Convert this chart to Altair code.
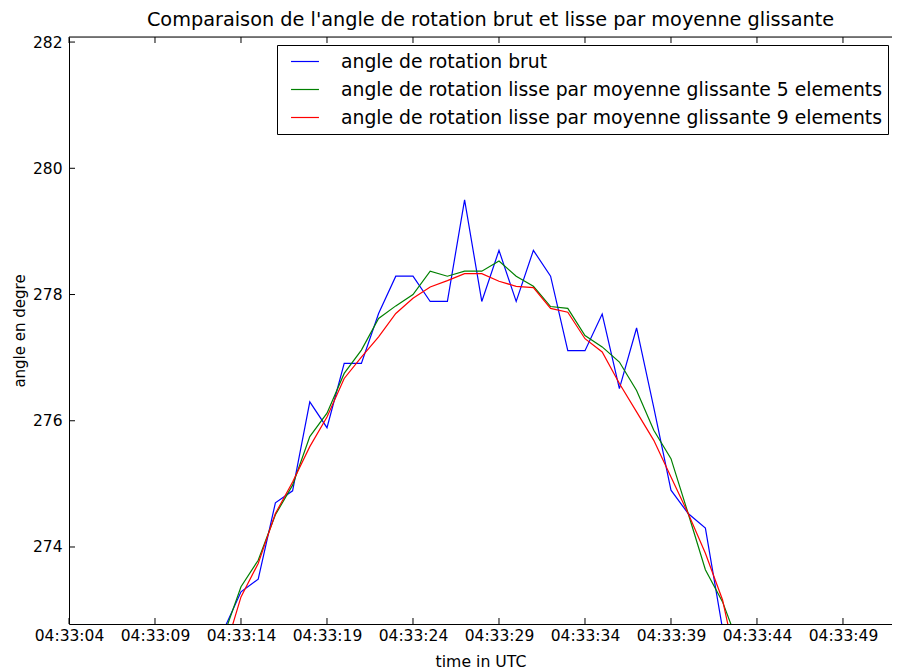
import altair as alt
import pandas as pd

# seconds after 04:33:00
seconds = list(range(13, 44))

raw_angle = [272.69, 273.29, 273.49, 274.70, 274.89, 276.30, 275.89, 276.91, 276.91, 277.70,
             278.29, 278.29, 277.89, 277.89, 279.50, 277.89, 278.70, 277.89, 278.70, 278.29,
             277.11, 277.11, 277.69, 276.51, 277.47, 276.21, 274.90, 274.53, 274.30, 272.70,
             272.00]
smooth5 = [272.60, 273.37, 273.79, 274.51, 274.98, 275.75, 276.12, 276.75, 277.12, 277.62,
           277.82, 278.00, 278.37, 278.29, 278.37, 278.37, 278.53, 278.29, 278.13, 277.81,
           277.78, 277.35, 277.17, 276.93, 276.48, 275.85, 275.40, 274.53, 273.64, 273.13,
           272.40]
smooth9 = [272.30, 273.21, 273.74, 274.53, 275.03, 275.59, 276.06, 276.67, 277.01, 277.33,
           277.70, 277.94, 278.12, 278.22, 278.33, 278.33, 278.21, 278.13, 278.11, 277.78,
           277.72, 277.30, 277.09, 276.59, 276.14, 275.69, 275.11, 274.53, 273.90, 273.16,
           271.90]

series_names = [
    "angle de rotation brut",
    "angle de rotation lisse par moyenne glissante 5 elements",
    "angle de rotation lisse par moyenne glissante 9 elements",
]
series_colors = ["#0000ff", "#008000", "#ff0000"]

x_tick_seconds = [4, 9, 14, 19, 24, 29, 34, 39, 44, 49]
y_tick_values = [274, 276, 278, 280, 282]
y_domain = [272.78, 282.08]

def ts(s):
    return "2015-01-01T04:33:%02d" % s

def dt(s, ms=0):
    return alt.DateTime(year=2015, month=1, date=1, hours=4, minutes=33, seconds=s, milliseconds=ms)

rows = []
for i, (name, vals) in enumerate(zip(series_names, [raw_angle, smooth5, smooth9])):
    for s, v in zip(seconds, vals):
        rows.append({"time": ts(s), "angle": v, "serie": name, "order": i})
df = pd.DataFrame(rows)

xt = pd.DataFrame({"time": [ts(s) for s in x_tick_seconds]})
yt = pd.DataFrame({"angle": y_tick_values})

W, H = 823, 587
FONT = "DejaVu Sans"

x_scale = alt.Scale(domain=[dt(4), dt(51, 850)])
y_scale = alt.Scale(domain=y_domain, nice=False, zero=False)

x_enc = alt.X("time:T", scale=x_scale,
              axis=alt.Axis(values=[dt(s) for s in x_tick_seconds], format="%H:%M:%S",
                            title="time in UTC", ticks=False, grid=False,
                            labelFontSize=15.5, titleFontSize=15.7, labelPadding=4,
                            titlePadding=11, domainColor="black", labelColor="black",
                            titleColor="black", titleFontWeight="normal", labelFlush=False))
y_enc = alt.Y("angle:Q", scale=y_scale,
              axis=alt.Axis(values=y_tick_values, format="d", title="angle en degre",
                            ticks=False, grid=False,
                            labelFontSize=15.5, titleFontSize=15, labelPadding=7,
                            titleX=-50, titleY=H / 2, titleBaseline="middle", titleAlign="center",
                            titleAngle=270,
                            domainColor="black", labelColor="black",
                            titleColor="black", titleFontWeight="normal"))

lines = alt.Chart(df).mark_line(clip=True, strokeWidth=1.2).encode(
    x=x_enc,
    y=y_enc,
    color=alt.Color("serie:N",
                    scale=alt.Scale(domain=series_names, range=series_colors),
                    legend=alt.Legend(title=None, orient="none", legendX=208, legendY=8,
                                      symbolType="M-0.26,0H2.68", symbolSize=361,
                                      symbolStrokeWidth=1.2, labelFontSize=18.8,
                                      labelOffset=37, rowPadding=7, padding=6,
                                      strokeColor="black", fillColor="white",
                                      labelColor="black", labelLimit=800)),
    detail="serie:N",
    order="order:Q",
)

xticks_bottom = alt.Chart(xt).mark_rule(color="black", strokeWidth=1).encode(
    x=alt.X("time:T", scale=x_scale), y=alt.value(H), y2=alt.value(H - 6))
xticks_top = alt.Chart(xt).mark_rule(color="black", strokeWidth=1).encode(
    x=alt.X("time:T", scale=x_scale), y=alt.value(0), y2=alt.value(6))
yticks_left = alt.Chart(yt).mark_rule(color="black", strokeWidth=1).encode(
    y=alt.Y("angle:Q", scale=y_scale), x=alt.value(0), x2=alt.value(6))
top_frame = alt.Chart(yt.head(1)).mark_rule(color="black", strokeWidth=1).encode(
    x=alt.value(0), x2=alt.value(W), y=alt.value(0))

chart = alt.layer(lines, xticks_bottom, xticks_top, yticks_left, top_frame).properties(
    width=W, height=H,
    title=alt.TitleParams("Comparaison de l'angle de rotation brut et lisse par moyenne glissante",
                          fontSize=19.3, font=FONT, fontWeight="normal", color="black",
                          anchor="middle", offset=5, dx=10),
    padding={"left": 61, "top": 29, "right": 0, "bottom": 48},
    autosize=alt.AutoSizeParams(type="none"),
).configure_view(stroke=None).configure(
    font=FONT, background="white"
).configure_axis(labelFont=FONT, titleFont=FONT).configure_legend(labelFont=FONT)

chart.save("out.html", embed_options={"renderer": "svg", "actions": False})
